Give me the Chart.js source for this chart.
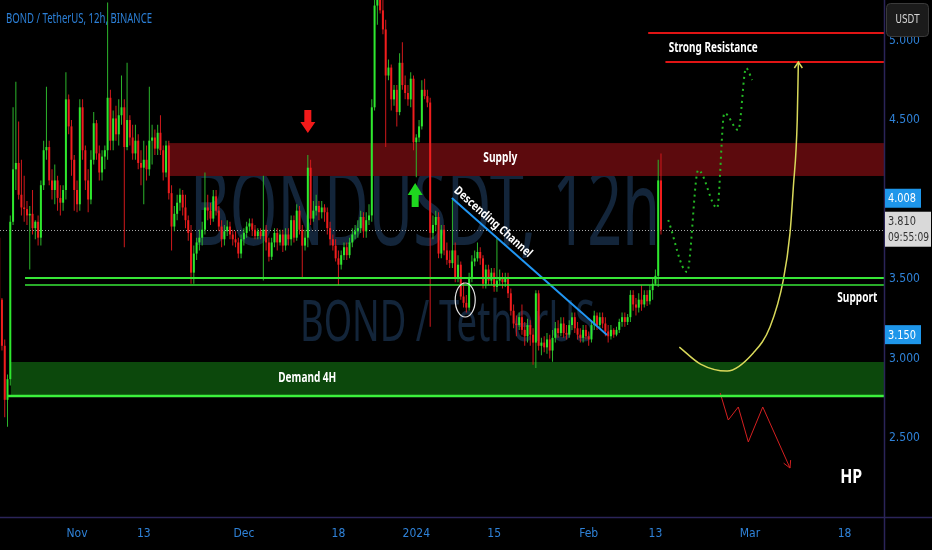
<!DOCTYPE html>
<html><head><meta charset="utf-8">
<script src="https://cdn.jsdelivr.net/npm/chart.js@4.4.1/dist/chart.umd.min.js"></script>
<style>html,body{margin:0;padding:0;background:#000;overflow:hidden}canvas{display:block}</style>
</head><body>
<canvas id="c" width="932" height="550"></canvas>
<script>
// ---- data (12h candles, days counted from 1 Nov 2023) ----
const firstCandleDay = -14;
const candleStepDays = 0.5;
const opens = [
3.76,3.37,3.08,2.74,2.87,3.86,4.19,4.23,4.03,3.95,
3.94,3.90,3.91,3.82,3.86,3.76,4.09,4.31,4.33,4.12,
4.06,4.12,4.01,3.98,4.06,4.63,4.46,4.25,4.06,3.97,
4.58,4.31,4.12,4.00,4.25,4.48,4.29,4.17,4.27,4.31,
4.64,4.37,4.51,4.41,4.53,4.58,4.33,4.50,4.39,4.29,
4.37,4.23,4.20,4.25,4.19,4.37,4.39,4.32,4.42,4.31,
4.17,4.34,4.04,3.83,3.91,3.98,4.03,3.95,3.87,3.79,
3.54,3.66,3.73,3.76,3.81,3.95,3.93,3.88,4.02,3.93,
3.83,3.75,3.80,3.83,3.78,3.75,3.73,3.66,3.75,3.79,
3.83,3.85,3.81,3.77,3.80,3.77,3.81,3.73,3.64,3.73,
3.79,3.73,3.78,3.71,3.78,3.75,3.87,3.76,3.93,3.81,
3.71,3.76,4.20,3.88,3.93,3.96,3.92,3.95,3.92,3.82,
3.75,3.71,3.63,3.59,3.65,3.70,3.65,3.73,3.78,3.80,
3.82,3.89,3.80,3.87,3.90,4.58,5.22,5.29,5.19,5.07,
4.78,4.83,4.63,4.69,4.55,4.86,4.72,4.67,4.63,4.76,
4.36,4.39,4.46,4.69,4.65,4.61,3.79,3.84,3.89,3.66,
3.81,3.68,3.62,3.60,3.68,3.51,3.59,3.39,3.35,3.32,
3.51,3.61,3.63,3.67,3.63,3.47,3.56,3.49,3.54,3.45,
3.49,3.51,3.48,3.51,3.41,3.30,3.22,3.21,3.26,3.18,
3.14,3.21,3.15,3.10,3.41,3.08,3.10,3.07,3.12,3.05,
3.13,3.19,3.16,3.22,3.16,3.15,3.21,3.26,3.19,3.15,
3.13,3.18,3.14,3.12,3.21,3.27,3.21,3.26,3.22,3.17,
3.14,3.18,3.15,3.18,3.23,3.26,3.23,3.26,3.40,3.34,
3.32,3.37,3.34,3.40,3.36,3.43,3.47,3.52,4.12];
const highs = [
3.80,3.38,3.12,2.90,3.90,4.58,4.74,4.49,4.25,4.15,
3.99,3.96,4.06,3.87,3.90,4.12,4.37,4.71,4.37,4.19,
4.22,4.15,4.09,4.09,4.80,4.66,4.50,4.28,4.12,4.63,
4.63,4.34,4.19,4.31,4.55,4.50,4.34,4.31,4.34,5.24,
4.69,4.56,4.59,4.63,4.78,4.63,4.86,4.53,4.47,4.47,
4.41,4.31,4.37,4.34,4.71,4.47,4.44,4.47,4.53,4.34,
4.37,4.37,4.09,3.96,4.03,4.07,4.06,4.03,3.90,3.84,
3.71,3.76,3.81,3.86,4.17,4.03,3.98,4.06,4.06,3.96,
3.87,3.84,3.87,3.86,3.81,3.80,3.76,3.78,3.82,3.86,
3.88,3.88,3.84,3.82,3.82,4.15,3.84,3.76,3.76,3.82,
3.82,3.81,3.81,3.82,3.82,3.90,3.90,3.97,3.96,3.84,
3.81,4.28,4.25,3.99,4.03,3.99,3.99,3.97,3.95,3.86,
3.78,3.75,3.68,3.68,3.73,3.73,3.76,3.82,3.84,3.87,
3.93,3.92,3.92,3.97,4.63,5.38,5.44,5.38,5.26,5.13,
4.88,4.85,4.72,4.72,4.92,4.99,4.78,4.72,4.80,4.78,
4.41,4.50,4.75,4.76,4.69,4.64,3.90,3.93,3.92,3.84,
3.84,3.73,3.68,4.00,3.73,3.65,3.61,3.48,3.40,3.54,
3.65,3.68,3.73,3.70,3.65,3.59,3.59,3.57,3.57,3.76,
3.56,3.54,3.54,3.54,3.44,3.34,3.27,3.29,3.34,3.23,
3.25,3.24,3.19,3.43,3.43,3.13,3.14,3.16,3.15,3.18,
3.23,3.24,3.26,3.26,3.21,3.24,3.29,3.29,3.23,3.19,
3.21,3.21,3.17,3.24,3.30,3.29,3.29,3.29,3.26,3.21,
3.21,3.19,3.20,3.25,3.29,3.29,3.28,3.43,3.43,3.38,
3.41,3.46,3.43,3.43,3.46,3.51,3.56,4.25,4.29];
const lows = [
3.34,3.05,2.63,2.57,2.83,3.84,4.06,4.00,3.90,3.86,
3.84,3.56,3.78,3.75,3.71,3.71,4.06,4.25,4.09,4.00,
3.97,3.93,3.90,3.93,4.00,4.41,4.15,3.93,3.92,3.93,
4.25,4.06,3.92,3.97,4.22,4.25,4.12,4.12,4.19,4.25,
4.31,4.31,4.37,4.34,4.47,3.70,4.31,4.34,4.25,4.25,
4.19,4.09,3.97,4.12,4.15,4.22,4.28,4.28,4.28,4.12,
4.14,4.00,3.68,3.80,3.87,3.93,3.90,3.82,3.74,3.47,
3.47,3.62,3.68,3.71,3.78,3.87,3.84,3.86,3.90,3.80,
3.70,3.71,3.77,3.75,3.71,3.70,3.63,3.63,3.71,3.76,
3.80,3.77,3.75,3.75,3.75,3.49,3.68,3.61,3.62,3.70,
3.68,3.71,3.67,3.68,3.71,3.71,3.73,3.74,3.78,3.50,
3.68,3.70,3.84,3.86,3.90,3.87,3.88,3.86,3.78,3.71,
3.68,3.61,3.46,3.56,3.62,3.62,3.63,3.70,3.75,3.76,
3.79,3.76,3.76,3.84,3.86,4.56,5.10,5.17,5.04,4.33,
4.75,4.56,4.59,4.46,4.53,4.69,4.63,4.59,4.58,4.31,
4.14,4.36,4.44,4.63,4.58,3.20,3.75,3.80,3.63,3.63,
3.65,3.59,3.57,3.57,3.48,3.48,3.37,3.32,3.29,3.30,
3.48,3.58,3.61,3.59,3.44,3.44,3.46,3.46,3.42,3.42,
3.46,3.44,3.45,3.38,3.27,3.19,3.14,3.18,3.15,3.08,
3.10,3.08,2.96,2.94,3.05,3.02,3.04,3.03,3.00,2.98,
3.10,3.13,3.14,3.13,3.12,3.13,3.18,3.16,3.12,3.10,
3.10,3.12,3.08,3.10,3.18,3.18,3.19,3.19,3.14,3.10,
3.12,3.13,3.14,3.16,3.20,3.20,3.21,3.23,3.30,3.27,
3.29,3.30,3.32,3.33,3.34,3.37,3.46,3.45,3.78];
const closes = [
3.37,3.08,2.74,2.87,3.86,4.19,4.23,4.03,3.95,3.94,
3.90,3.91,3.82,3.86,3.76,4.09,4.31,4.33,4.12,4.06,
4.12,4.01,3.98,4.06,4.63,4.46,4.25,4.06,3.97,4.58,
4.31,4.12,4.00,4.25,4.48,4.29,4.17,4.27,4.31,4.64,
4.37,4.51,4.41,4.53,4.58,4.33,4.50,4.39,4.29,4.37,
4.23,4.20,4.25,4.19,4.37,4.39,4.32,4.42,4.31,4.17,
4.34,4.04,3.83,3.91,3.98,4.03,3.95,3.87,3.79,3.54,
3.66,3.73,3.76,3.81,3.95,3.93,3.88,4.02,3.93,3.83,
3.75,3.80,3.83,3.78,3.75,3.73,3.66,3.75,3.79,3.83,
3.85,3.81,3.77,3.80,3.77,3.81,3.73,3.64,3.73,3.79,
3.73,3.78,3.71,3.78,3.75,3.87,3.76,3.93,3.81,3.71,
3.76,4.20,3.88,3.93,3.96,3.92,3.95,3.92,3.82,3.75,
3.71,3.63,3.59,3.65,3.70,3.65,3.73,3.78,3.80,3.82,
3.89,3.80,3.87,3.90,4.58,5.22,5.29,5.19,5.07,4.78,
4.83,4.63,4.69,4.55,4.86,4.72,4.67,4.63,4.76,4.36,
4.39,4.46,4.69,4.65,4.61,3.79,3.84,3.89,3.66,3.81,
3.68,3.62,3.60,3.68,3.51,3.59,3.39,3.35,3.32,3.51,
3.61,3.63,3.67,3.63,3.47,3.56,3.49,3.54,3.45,3.49,
3.51,3.48,3.51,3.41,3.30,3.22,3.21,3.26,3.18,3.14,
3.21,3.15,3.10,3.41,3.08,3.10,3.07,3.12,3.05,3.13,
3.19,3.16,3.22,3.16,3.15,3.21,3.26,3.19,3.15,3.13,
3.18,3.14,3.12,3.21,3.27,3.21,3.26,3.22,3.17,3.14,
3.18,3.15,3.18,3.23,3.26,3.23,3.26,3.40,3.34,3.32,
3.37,3.34,3.40,3.36,3.43,3.47,3.52,4.12,3.81];

const xTickDays = [0,12,30,47,61,75,92,104,121,138];
const xTickLabels = ['Nov','13','Dec','18','2024','15','Feb','13','Mar','18'];
const yTickValues = [2.5,3.0,3.5,4.5,5.0];
const currentPrice = 3.81;
const currentTime = '09:55:09';
const priceMarks = [4.008, 3.150];
const supplyZone = [4.148, 4.355];
const supplyStartDay = 16.4;
const demandZone = [2.764, 2.978];
const demandStartDay = -11.9;
const supportLevels = [3.506, 3.462];
const supportStartDay = -9.35;
const resistanceLevels = [5.047, 4.865];
const resistanceStartDays = [102.7, 105.8];
const channelDays = [67.4, 95.3];
const channelPrices = [4.009, 3.148];
const projDays = [106.3, 109.7, 111.7, 115.1, 116.4, 118.9, 120.3, 121.4];
const projPrices = [3.871, 3.544, 4.186, 3.947, 4.544, 4.437, 4.827, 4.752];
const curveDays = [108.3, 112.1, 116.9, 121.6, 124.6, 127.0, 128.2, 128.8, 129.5, 129.7];
const curvePrices = [3.072, 2.965, 2.921, 3.035, 3.198, 3.494, 3.789, 4.079, 4.5, 4.865];
const dropDays = [115.65, 117.1, 118.9, 120.7, 123.3, 128.2];
const dropPrices = [2.783, 2.613, 2.695, 2.475, 2.695, 2.311];
const noteTexts = ['Supply','Demand 4H','Strong Resistance','Support','HP','Descending Channel'];
const noteDays = [76.1, 41.4, 114.4, 140.3, 139.2, 74.8];
const notePrices = [4.261, 2.878, 4.953, 3.38, 2.248, 3.858];
const circleDay = 69.8, circlePrice = 3.368;
const arrowDays = [41.5, 60.8];
const arrowTipPrices = [4.418, 4.104];

// ---- rendering ----
const X_MIN = -13.85, X_MAX = 145.1, Y_MIN = 2.003, Y_MAX = 5.255;
const NARROW = "'Liberation Sans Narrow','DejaVu Sans Condensed','Roboto Condensed',Roboto,sans-serif";
const SANS = "'Noto Sans','Open Sans',sans-serif";
const GREEN = '#2ee82e', RED = '#f01d1d', GREEN_W = '#2cb52c', RED_W = '#d0191c';

const day = i => firstCandleDay + i * candleStepDays;
const isUp = closes.map((c, i) => c >= opens[i]);
const wickData = highs.map((h, i) => ({ x: day(i), y: [lows[i], h] }));
const bodyData = closes.map((c, i) => ({ x: day(i), y: [opens[i], c] }));

function lineDs(xs, ys, color, width, extra) {
  return Object.assign({
    type: 'line', data: xs.map((x, i) => ({ x, y: ys[i] })),
    borderColor: color, borderWidth: width, pointRadius: 0, fill: false,
    tension: 0, order: 1
  }, extra || {});
}
const hline = (y, start, color, w) => lineDs([start, X_MAX], [y, y], color, w);

function txt(ctx, s, cx, cy, size, weight, color, targetW, rot, family) {
  ctx.save();
  ctx.font = `${weight} ${size}px ${family || SANS}`;
  const w = ctx.measureText(s).width;
  ctx.translate(cx, cy);
  if (rot) ctx.rotate(rot);
  ctx.scale(targetW / w, 1);
  ctx.fillStyle = color; ctx.textAlign = 'center'; ctx.textBaseline = 'middle';
  ctx.fillText(s, 0, 0);
  ctx.restore();
}
function txtLeft(ctx, s, x, y, size, weight, color, targetW, baseline, family) {
  ctx.save();
  ctx.font = `${weight} ${size}px ${family || SANS}`;
  const w = ctx.measureText(s).width;
  ctx.translate(x, y);
  ctx.scale(targetW / w, 1);
  ctx.fillStyle = color; ctx.textAlign = 'left'; ctx.textBaseline = baseline || 'middle';
  ctx.fillText(s, 0, 0);
  ctx.restore();
}

const decor = {
  id: 'decor',
  beforeDraw(chart) {
    const c = chart.ctx; c.save(); c.fillStyle = '#000'; c.fillRect(0, 0, chart.width, chart.height); c.restore();
  },
  beforeDatasetsDraw(chart) {
    const c = chart.ctx, a = chart.chartArea, X = v => chart.scales.x.getPixelForValue(v), Y = v => chart.scales.y.getPixelForValue(v);
    c.save();
    c.beginPath(); c.rect(a.left, a.top, a.right - a.left, a.bottom - a.top); c.clip();
    // watermark
    txtLeft(c, 'BONDUSDT, 12h', 190, 245, 104, 'normal', '#13253a', 470, 'alphabetic');
    txtLeft(c, 'BOND / TetherUS', 300, 341, 56, 'normal', '#13253a', 295, 'alphabetic');
    // zones
    c.fillStyle = '#5c0a0d';
    c.fillRect(X(supplyStartDay), Y(supplyZone[1]), a.right - X(supplyStartDay), Y(supplyZone[0]) - Y(supplyZone[1]));
    c.fillStyle = '#0c480c';
    c.fillRect(X(demandStartDay), Y(demandZone[1]), a.right - X(demandStartDay), Y(demandZone[0]) - Y(demandZone[1]));
    // current price dotted line
    c.strokeStyle = '#a8a8a8'; c.lineWidth = 1; c.setLineDash([1, 2]);
    const yp = Math.round(Y(currentPrice)) + 0.5;
    c.beginPath(); c.moveTo(a.left, yp); c.lineTo(a.right, yp); c.stroke();
    c.restore();
  },
  afterDatasetsDraw(chart) {
    const c = chart.ctx, X = v => chart.scales.x.getPixelForValue(v), Y = v => chart.scales.y.getPixelForValue(v);
    c.save();
    // circle
    c.strokeStyle = '#e6e6e6'; c.lineWidth = 1.2;
    c.beginPath(); c.ellipse(X(circleDay), Y(circlePrice), 10, 17, 0, 0, Math.PI * 2); c.stroke();
    // red down arrow
    let tx = X(arrowDays[0]), ty = Y(arrowTipPrices[0]);
    c.fillStyle = '#f21a1a';
    c.beginPath(); c.moveTo(tx, ty); c.lineTo(tx - 7.5, ty - 11); c.lineTo(tx - 3.5, ty - 11); c.lineTo(tx - 3.5, ty - 23);
    c.lineTo(tx + 3.5, ty - 23); c.lineTo(tx + 3.5, ty - 11); c.lineTo(tx + 7.5, ty - 11); c.closePath(); c.fill();
    // green up arrow
    tx = X(arrowDays[1]); ty = Y(arrowTipPrices[1]);
    c.fillStyle = '#1fd81f';
    c.beginPath(); c.moveTo(tx, ty); c.lineTo(tx - 7.5, ty + 12); c.lineTo(tx - 3.5, ty + 12); c.lineTo(tx - 3.5, ty + 24);
    c.lineTo(tx + 3.5, ty + 24); c.lineTo(tx + 3.5, ty + 12); c.lineTo(tx + 7.5, ty + 12); c.closePath(); c.fill();
    // arrowheads
    const n = curveDays.length;
    const yx = X(curveDays[n - 1]), yy = Y(curvePrices[n - 1]);
    c.strokeStyle = '#d9d95a'; c.lineWidth = 1.5;
    c.beginPath(); c.moveTo(yx - 4, yy + 6); c.lineTo(yx, yy); c.lineTo(yx + 4, yy + 6); c.stroke();
    const m = dropDays.length;
    const ex = X(dropDays[m - 1]), ey = Y(dropPrices[m - 1]);
    const ang = Math.atan2(ey - Y(dropPrices[m - 2]), ex - X(dropDays[m - 2]));
    c.strokeStyle = '#d42020'; c.lineWidth = 1;
    c.beginPath();
    c.moveTo(ex - 8 * Math.cos(ang - 0.5), ey - 8 * Math.sin(ang - 0.5)); c.lineTo(ex, ey);
    c.lineTo(ex - 8 * Math.cos(ang + 0.5), ey - 8 * Math.sin(ang + 0.5)); c.stroke();
    // notes
    const widths = [34, 58, 89, 40, 22, 100], sizes = [14, 14, 14, 14, 19, 12];
    const rot = Math.atan2(Y(channelPrices[1]) - Y(channelPrices[0]), X(channelDays[1]) - X(channelDays[0]));
    noteTexts.forEach((s, i) => {
      txt(c, s, X(noteDays[i]), Y(notePrices[i]), sizes[i], 'bold', '#ffffff', widths[i], i === 5 ? rot : 0);
    });
    c.restore();
  },
  afterDraw(chart) {
    const c = chart.ctx, a = chart.chartArea, Y = v => chart.scales.y.getPixelForValue(v);
    c.save();
    c.strokeStyle = '#2b2459'; c.lineWidth = 1.5;
    c.beginPath(); c.moveTo(0, a.bottom + 0.5); c.lineTo(chart.width, a.bottom + 0.5); c.stroke();
    c.beginPath(); c.moveTo(a.right + 0.5, 0); c.lineTo(a.right + 0.5, chart.height); c.stroke();
    // price marks
    priceMarks.forEach(p => {
      const y = Y(p);
      c.fillStyle = '#1e96ea'; c.fillRect(a.right + 1, y - 9.5, 36, 19);
      txtLeft(c, p.toFixed(3), a.right + 4, y + 0.5, 13, 'normal', '#ffffff', 28, 'middle', NARROW);
    });
    // current price box
    const yc = Y(currentPrice);
    c.fillStyle = '#d9d9d9'; c.fillRect(a.right + 1, yc - 18, 46, 35);
    txtLeft(c, currentPrice.toFixed(3), a.right + 4, yc - 8, 13, 'normal', '#333333', 28, 'middle', NARROW);
    txtLeft(c, currentTime, a.right + 4, yc + 8, 13, 'normal', '#333333', 41, 'middle', NARROW);
    // USDT button
    c.fillStyle = '#1b1b1b'; c.strokeStyle = '#3a3a3a'; c.lineWidth = 1;
    c.beginPath(); c.roundRect(a.right + 2.5, 3.5, 42, 33, 4); c.fill(); c.stroke();
    txt(c, 'USDT', a.right + 23.5, 20, 13, 'normal', '#d6d6d6', 24, 0, NARROW);
    // title
    txtLeft(c, 'BOND / TetherUS, 12h, BINANCE', 6, 19, 15, 'normal', '#2c80d8', 146, 'middle');
    c.restore();
  }
};

new Chart(document.getElementById('c'), {
  type: 'bar',
  data: {
    datasets: [
      { type: 'bar', data: wickData, backgroundColor: isUp.map(u => u ? GREEN_W : RED_W), barThickness: 1, grouped: false, order: 11, borderWidth: 0, inflateAmount: 0 },
      { type: 'bar', data: bodyData, backgroundColor: isUp.map(u => u ? GREEN : RED), barThickness: 2, grouped: false, order: 10, borderWidth: 0, inflateAmount: 0, minBarLength: 1 },
      hline(supportLevels[0], supportStartDay, '#37e637', 2),
      hline(supportLevels[1], supportStartDay, '#37e637', 1.5),
      hline(demandZone[0], demandStartDay - 0.5, '#3cf03c', 2.5),
      hline(resistanceLevels[0], resistanceStartDays[0], '#e01414', 2),
      hline(resistanceLevels[1], resistanceStartDays[1], '#e01414', 2),
      lineDs(channelDays, channelPrices, '#2196f3', 2),
      lineDs(projDays, projPrices, '#24b824', 2, { borderDash: [2, 4], cubicInterpolationMode: 'monotone' }),
      lineDs(curveDays, curvePrices, '#d9d95a', 1.5, { cubicInterpolationMode: 'monotone' }),
      lineDs(dropDays, dropPrices, '#d42020', 1)
    ]
  },
  options: {
    responsive: false, animation: false, devicePixelRatio: 1,
    layout: { padding: 0 },
    plugins: { legend: { display: false }, tooltip: { enabled: false } },
    scales: {
      x: {
        type: 'linear', min: X_MIN, max: X_MAX, offset: false,
        grid: { display: false, drawTicks: false }, border: { display: false },
        ticks: { color: '#2f82d8', font: { family: NARROW, size: 12 }, padding: 10, autoSkip: false, maxRotation: 0,
          callback: (v, i) => xTickLabels[i] },
        afterBuildTicks: s => { s.ticks = xTickDays.map(v => ({ value: v })); },
        afterFit: s => { s.height = 33; s.paddingLeft = 0; s.paddingRight = 0; }
      },
      y: {
        type: 'linear', position: 'right', min: Y_MIN, max: Y_MAX,
        grid: { display: false, drawTicks: false }, border: { display: false },
        ticks: { color: '#2f82d8', font: { family: NARROW, size: 12 }, padding: 5, callback: v => Number(v).toFixed(3) },
        afterBuildTicks: s => { s.ticks = yTickValues.map(v => ({ value: v })); },
        afterFit: s => { s.width = 48; s.paddingTop = 0; s.paddingBottom = 0; }
      }
    }
  },
  plugins: [decor]
});
</script>
</body></html>
